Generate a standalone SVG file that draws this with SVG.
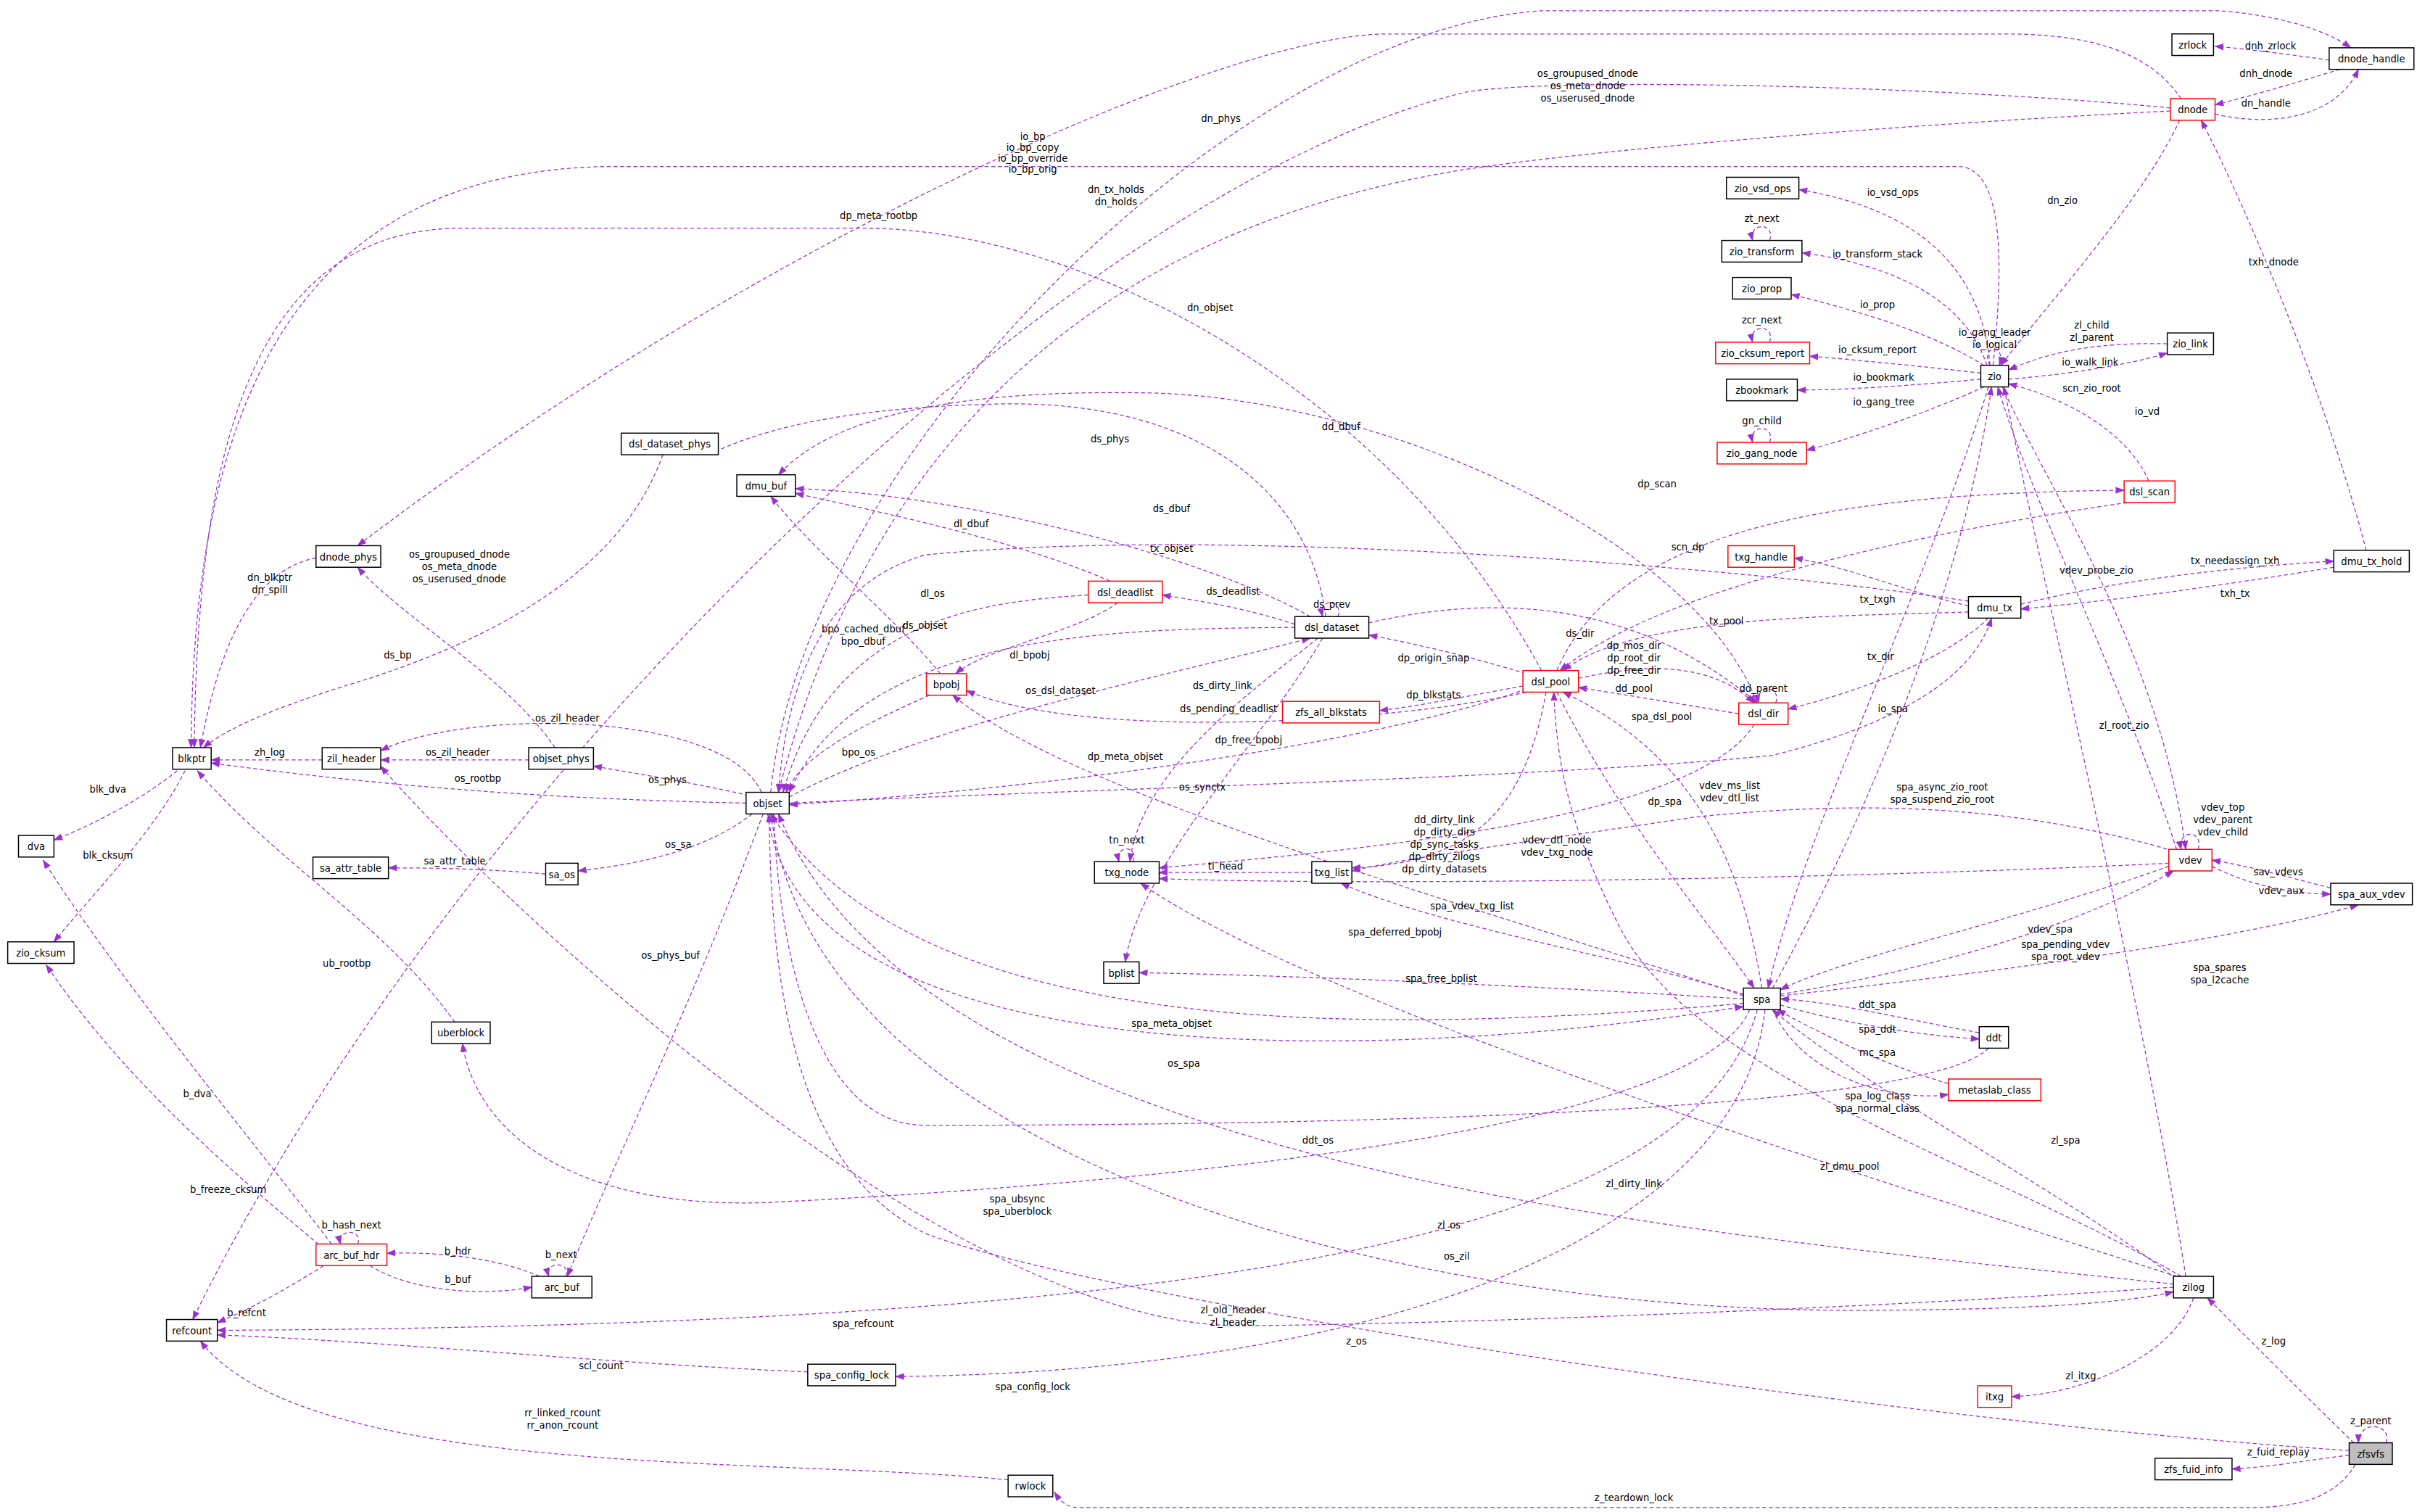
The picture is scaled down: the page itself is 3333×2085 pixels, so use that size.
<svg xmlns="http://www.w3.org/2000/svg" width="3333" height="2085" viewBox="0 0 3333 2085">
<style>
.nb{fill:#fff;stroke:#000;stroke-width:0.7}
.nr{fill:#fff;stroke:#f00;stroke-width:0.7}
.ng{fill:#bfbfbf;stroke:#000;stroke-width:0.7}
text{font-family:"DejaVu Sans","Liberation Sans",sans-serif;font-size:6.2px;fill:#000;text-anchor:middle}
.e path{fill:none;stroke:#9a32cd;stroke-width:0.6;stroke-dasharray:2.6,1.7}
</style>
<defs>
<marker id="a" markerUnits="userSpaceOnUse" markerWidth="6" markerHeight="5" refX="5.5" refY="2.2" orient="auto" viewBox="0 0 6 4.4"><path d="M0,0L6,2.2L0,4.4z" fill="#9a32cd" stroke="none"/></marker>
</defs>
<rect width="3333" height="2085" fill="#fff"/>
<g transform="scale(2.12564)">
<g id="connectors" class="e">
<g marker-end="url(#a)">
<path d="M1511,39C1490,36 1460,32 1437,30"/>
<path d="M1518,45C1495,52 1465,61 1437,68"/>
<path d="M1437,74C1470,82 1515,78 1530,45"/>
<path d="M500,514C520,300 800,20 1000,7L1440,7C1480,10 1510,20 1525,31"/>
<path d="M1415,64C1395,35 1360,22 1300,22L900,22C800,22 500,150 232,354"/>
<path d="M1408,70C1250,55 1000,50 950,60C700,120 300,500 125,856"/>
<path d="M1408,72C1250,80 1050,95 950,110C700,150 560,300 505,514"/>
<path d="M1291,237C1285,170 1240,135 1167,123"/>
<path d="M1289,237C1275,195 1230,172 1169,164"/>
<path d="M1287,237C1260,220 1220,205 1162,191"/>
<path d="M1285,242C1250,238 1210,234 1174,231"/>
<path d="M1285,246C1240,250 1200,253 1166,253"/>
<path d="M1287,251C1250,268 1200,285 1172,292"/>
<path d="M1291,237C1284,224 1302,222 1297,237"/>
<path d="M1406,223C1360,222 1330,228 1303,240"/>
<path d="M1303,246C1340,243 1380,237 1406,229"/>
<path d="M1414,78C1390,130 1330,195 1298,237"/>
<path d="M1293,237C1300,170 1300,108 1270,108L400,108C170,108 125,300 124,485"/>
<path d="M1394,312C1380,280 1340,258 1303,249"/>
<path d="M1299,251C1330,320 1400,420 1418,551"/>
<path d="M1412,551C1380,450 1320,330 1296,251"/>
<path d="M1418,828C1390,650 1330,400 1300,251"/>
<path d="M1150,641C1200,550 1270,400 1292,251"/>
<path d="M1290,251C1250,380 1170,540 1147,641"/>
<path d="M1148,156C1152,144 1134,144 1137,156"/>
<path d="M1148,222C1152,210 1134,210 1137,222"/>
<path d="M1148,287C1152,275 1134,275 1137,287"/>
<path d="M1010,435C1050,340 1200,320 1378,318"/>
<path d="M1380,326C1250,345 1080,380 1012,435"/>
<path d="M1535,357C1510,260 1460,140 1428,78"/>
<path d="M1311,392C1380,375 1450,368 1514,364"/>
<path d="M1514,368C1440,380 1370,390 1311,395"/>
<path d="M1277,393C1240,385 1200,368 1164,362"/>
<path d="M1277,397C1180,400 1060,400 1014,435"/>
<path d="M1290,401C1260,430 1200,450 1160,460"/>
<path d="M1277,390C1150,370 800,340 600,360C530,380 510,450 505,514"/>
<path d="M512,521C700,512 1000,505 1150,490C1230,470 1280,440 1292,401"/>
<path d="M860,400C850,320 780,260 650,262C560,264 500,275 460,295"/>
<path d="M850,400C780,360 620,320 516,317"/>
<path d="M840,405C810,395 780,390 754,386"/>
<path d="M840,407C720,408 560,410 512,514"/>
<path d="M512,517C600,470 750,440 850,414"/>
<path d="M868,400C872,389 855,387 858,400"/>
<path d="M888,404C950,390 1050,380 1140,456"/>
<path d="M855,414C810,450 740,500 733,559"/>
<path d="M858,414C820,480 740,560 730,624"/>
<path d="M720,377C660,350 560,330 516,320"/>
<path d="M706,386C640,390 540,400 508,514"/>
<path d="M725,391C700,410 640,420 620,437"/>
<path d="M610,437C580,400 530,360 500,322"/>
<path d="M603,451C560,470 520,490 510,514"/>
<path d="M990,437C950,425 920,418 888,412"/>
<path d="M988,445C950,452 920,458 895,461"/>
<path d="M990,449C900,470 700,480 627,448"/>
<path d="M990,447C900,480 700,510 512,522"/>
<path d="M1000,435C900,250 700,148 560,148L300,148C160,148 128,300 126,485"/>
<path d="M1024,440C1070,430 1110,430 1138,456"/>
<path d="M1128,463C1080,455 1050,450 1024,446"/>
<path d="M1152,456C1156,444 1138,444 1141,456"/>
<path d="M1140,456C1100,350 900,260 750,255C620,252 540,270 505,308"/>
<path d="M1010,449C1050,530 1110,600 1138,641"/>
<path d="M1143,641C1130,560 1100,490 1014,449"/>
<path d="M1003,449C990,520 960,560 877,563"/>
<path d="M1138,470C1100,530 900,550 752,563"/>
<path d="M851,566L752,566"/>
<path d="M735,559C739,548 723,548 726,559"/>
<path d="M1407,560C1200,570 900,575 752,570"/>
<path d="M1410,552C1300,520 1200,520 1100,530C1000,545 920,555 877,565"/>
<path d="M1131,645C1050,620 930,600 870,573"/>
<path d="M1131,646C1000,600 700,520 618,451"/>
<path d="M1131,648C1000,640 850,633 739,631"/>
<path d="M1131,651C900,670 600,680 500,528"/>
<path d="M498,528C520,700 900,690 1131,653"/>
<path d="M1135,655C1100,740 700,770 500,780C380,785 310,740 300,677"/>
<path d="M1140,655C1100,800 800,860 141,863"/>
<path d="M1145,655C1130,800 900,890 581,893"/>
<path d="M1284,670C1230,660 1190,650 1155,648"/>
<path d="M1155,652C1200,665 1250,672 1284,674"/>
<path d="M1264,703C1220,690 1180,670 1153,655"/>
<path d="M1150,655C1170,700 1230,715 1264,710"/>
<path d="M1407,562C1300,600 1200,620 1155,642"/>
<path d="M1155,645C1250,630 1350,600 1410,565"/>
<path d="M1155,646C1300,630 1450,610 1530,587"/>
<path d="M1512,576C1480,568 1460,562 1435,558"/>
<path d="M1435,562C1460,575 1490,580 1512,580"/>
<path d="M1426,551C1430,538 1412,538 1415,551"/>
<path d="M1412,830C1350,780 1200,700 1150,655"/>
<path d="M1415,828C1300,760 1100,700 1050,600C1020,540 1010,500 1008,449"/>
<path d="M1410,833C1100,800 600,760 505,528"/>
<path d="M1412,828C1200,760 850,650 740,573"/>
<path d="M1410,835C1200,850 900,860 800,860C600,855 300,560 247,497"/>
<path d="M1423,842C1410,880 1350,905 1305,906"/>
<path d="M1290,680C1250,720 900,730 600,730C530,730 505,620 502,528"/>
<path d="M500,528C530,750 900,850 1200,850C1320,850 1380,845 1410,838"/>
<path d="M1524,941C1200,920 700,840 600,800C520,760 500,650 499,528"/>
<path d="M1527,936C1500,910 1460,870 1432,842"/>
<path d="M1524,944C1500,947 1470,952 1448,953"/>
<path d="M1548,936C1552,923 1530,921 1530,936"/>
<path d="M1528,950C1515,972 1490,978 1460,978L700,978C692,978 688,974 684,968"/>
<path d="M654,960C500,945 200,960 130,870"/>
<path d="M524,890C400,885 250,870 141,866"/>
<path d="M210,821C180,840 160,850 141,858"/>
<path d="M240,821C270,840 320,840 345,835"/>
<path d="M350,828C320,815 280,812 251,813"/>
<path d="M367,828C371,818 353,818 356,828"/>
<path d="M232,807C236,797 218,797 221,807"/>
<path d="M215,807C180,760 80,640 28,558"/>
<path d="M210,810C150,760 80,700 30,626"/>
<path d="M295,663C250,600 180,560 128,500"/>
<path d="M115,500C90,520 60,535 35,545"/>
<path d="M120,500C100,540 60,580 35,611"/>
<path d="M205,362C160,370 140,430 130,485"/>
<path d="M209,493L137,493"/>
<path d="M343,493L247,493"/>
<path d="M360,485C330,440 260,400 232,368"/>
<path d="M494,514C470,460 300,460 247,487"/>
<path d="M486,516C450,508 420,503 385,497"/>
<path d="M484,521C350,518 250,510 137,495"/>
<path d="M488,528C460,550 420,560 375,565"/>
<path d="M354,567C320,564 290,563 252,563"/>
<path d="M495,528C450,650 400,750 368,828"/>
<path d="M430,295C400,380 300,420 240,440C190,455 150,470 132,485"/>
</g>
<g id="labels">
<text x="1473" y="32">dnh_zrlock</text>
<text x="1470" y="50">dnh_dnode</text>
<text x="1470" y="69">dn_handle</text>
<text x="1030" y="50">os_groupused_dnode</text><text x="1030" y="58">os_meta_dnode</text><text x="1030" y="66">os_userused_dnode</text>
<text x="792" y="79">dn_phys</text>
<text x="724" y="125">dn_tx_holds</text><text x="724" y="133">dn_holds</text>
<text x="785" y="202">dn_objset</text>
<text x="1228" y="127">io_vsd_ops</text>
<text x="1218" y="167">io_transform_stack</text>
<text x="1218" y="200">io_prop</text>
<text x="1218" y="229">io_cksum_report</text>
<text x="1222" y="247">io_bookmark</text>
<text x="1222" y="263">io_gang_tree</text>
<text x="1294" y="218">io_gang_leader</text><text x="1294" y="226">io_logical</text>
<text x="1357" y="213">zl_child</text><text x="1357" y="221">zl_parent</text>
<text x="1356" y="237">io_walk_link</text>
<text x="1338" y="132">dn_zio</text>
<text x="670" y="91">io_bp</text><text x="670" y="98">io_bp_copy</text><text x="670" y="105">io_bp_override</text><text x="670" y="112">io_bp_orig</text>
<text x="1357" y="254">scn_zio_root</text>
<text x="1393" y="269">io_vd</text>
<text x="1360" y="372">vdev_probe_zio</text>
<text x="1378" y="473">zl_root_zio</text>
<text x="1260" y="513">spa_async_zio_root</text><text x="1260" y="521">spa_suspend_zio_root</text>
<text x="1228" y="462">io_spa</text>
<text x="1143" y="144">zt_next</text>
<text x="1143" y="210">zcr_next</text>
<text x="1143" y="275">gn_child</text>
<text x="1075" y="316">dp_scan</text>
<text x="1095" y="357">scn_dp</text>
<text x="1475" y="172">txh_dnode</text>
<text x="1450" y="366">tx_needassign_txh</text>
<text x="1450" y="387">txh_tx</text>
<text x="1218" y="391">tx_txgh</text>
<text x="1120" y="405">tx_pool</text>
<text x="1220" y="428">tx_dir</text>
<text x="760" y="358">tx_objset</text>
<text x="780" y="513">os_synctx</text>
<text x="720" y="287">ds_phys</text>
<text x="760" y="332">ds_dbuf</text>
<text x="800" y="386">ds_deadlist</text>
<text x="600" y="408">ds_objset</text>
<text x="688" y="450">os_dsl_dataset</text>
<text x="864" y="394">ds_prev</text>
<text x="1025" y="413">ds_dir</text>
<text x="793" y="447">ds_dirty_link</text>
<text x="797" y="462">ds_pending_deadlist</text>
<text x="630" y="342">dl_dbuf</text>
<text x="605" y="387">dl_os</text>
<text x="668" y="427">dl_bpobj</text>
<text x="560" y="410">bpo_cached_dbuf</text><text x="560" y="418">bpo_dbuf</text>
<text x="557" y="490">bpo_os</text>
<text x="930" y="429">dp_origin_snap</text>
<text x="930" y="453">dp_blkstats</text>
<text x="810" y="482">dp_free_bpobj</text>
<text x="730" y="493">dp_meta_objset</text>
<text x="570" y="142">dp_meta_rootbp</text>
<text x="1060" y="421">dp_mos_dir</text><text x="1060" y="429">dp_root_dir</text><text x="1060" y="437">dp_free_dir</text>
<text x="1060" y="449">dd_pool</text>
<text x="1144" y="449">dd_parent</text>
<text x="870" y="279">dd_dbuf</text>
<text x="1080" y="522">dp_spa</text>
<text x="1078" y="467">spa_dsl_pool</text>
<text x="937" y="534">dd_dirty_link</text><text x="937" y="542">dp_dirty_dirs</text><text x="937" y="550">dp_sync_tasks</text><text x="937" y="558">dp_dirty_zilogs</text><text x="937" y="566">dp_dirty_datasets</text>
<text x="795" y="564">tl_head</text>
<text x="731" y="547">tn_next</text>
<text x="1010" y="547">vdev_dtl_node</text><text x="1010" y="555">vdev_txg_node</text>
<text x="1122" y="512">vdev_ms_list</text><text x="1122" y="520">vdev_dtl_list</text>
<text x="955" y="590">spa_vdev_txg_list</text>
<text x="905" y="607">spa_deferred_bpobj</text>
<text x="935" y="637">spa_free_bplist</text>
<text x="760" y="666">spa_meta_objset</text>
<text x="768" y="692">os_spa</text>
<text x="660" y="780">spa_ubsync</text><text x="660" y="788">spa_uberblock</text>
<text x="560" y="861">spa_refcount</text>
<text x="670" y="902">spa_config_lock</text>
<text x="1218" y="654">ddt_spa</text>
<text x="1218" y="670">spa_ddt</text>
<text x="1218" y="685">mc_spa</text>
<text x="1218" y="713">spa_log_class</text><text x="1218" y="721">spa_normal_class</text>
<text x="1330" y="605">vdev_spa</text>
<text x="1340" y="615">spa_pending_vdev</text><text x="1340" y="623">spa_root_vdev</text>
<text x="1440" y="630">spa_spares</text><text x="1440" y="638">spa_l2cache</text>
<text x="1478" y="568">sav_vdevs</text>
<text x="1480" y="580">vdev_aux</text>
<text x="1442" y="526">vdev_top</text><text x="1442" y="534">vdev_parent</text><text x="1442" y="542">vdev_child</text>
<text x="1340" y="742">zl_spa</text>
<text x="1200" y="759">zl_dmu_pool</text>
<text x="940" y="797">zl_os</text>
<text x="1060" y="770">zl_dirty_link</text>
<text x="800" y="852">zl_old_header</text><text x="800" y="860">zl_header</text>
<text x="1350" y="895">zl_itxg</text>
<text x="855" y="742">ddt_os</text>
<text x="945" y="817">os_zil</text>
<text x="880" y="872">z_os</text>
<text x="1475" y="872">z_log</text>
<text x="1478" y="944">z_fuid_replay</text>
<text x="1538" y="924">z_parent</text>
<text x="1060" y="974">z_teardown_lock</text>
<text x="365" y="919">rr_linked_rcount</text><text x="365" y="927">rr_anon_rcount</text>
<text x="390" y="888">scl_count</text>
<text x="160" y="854">b_refcnt</text>
<text x="297" y="832">b_buf</text>
<text x="297" y="814">b_hdr</text>
<text x="364" y="816">b_next</text>
<text x="228" y="797">b_hash_next</text>
<text x="128" y="712">b_dva</text>
<text x="148" y="774">b_freeze_cksum</text>
<text x="225" y="627">ub_rootbp</text>
<text x="70" y="514">blk_dva</text>
<text x="70" y="557">blk_cksum</text>
<text x="175" y="377">dn_blkptr</text><text x="175" y="385">dn_spill</text>
<text x="175" y="490">zh_log</text>
<text x="297" y="490">os_zil_header</text>
<text x="298" y="362">os_groupused_dnode</text><text x="298" y="370">os_meta_dnode</text><text x="298" y="378">os_userused_dnode</text>
<text x="368" y="468">os_zil_header</text>
<text x="433" y="508">os_phys</text>
<text x="310" y="507">os_rootbp</text>
<text x="440" y="550">os_sa</text>
<text x="295" y="561">sa_attr_table</text>
<text x="435" y="622">os_phys_buf</text>
<text x="258" y="427">ds_bp</text>
</g>
</g>
<g id="n_zrlock"><rect class="nb" x="1409" y="22" width="27" height="14"/><text x="1422.5" y="31.5">zrlock</text></g>
<g id="n_dnode_handle"><rect class="nb" x="1511" y="31" width="55" height="14"/><text x="1538.5" y="40.5">dnode_handle</text></g>
<g id="n_dnode"><rect class="nr" x="1408" y="64" width="29" height="14"/><text x="1422.5" y="73.5">dnode</text></g>
<g id="n_zio_vsd_ops"><rect class="nb" x="1120" y="115" width="47" height="14"/><text x="1143.5" y="124.5">zio_vsd_ops</text></g>
<g id="n_zio_transform"><rect class="nb" x="1117" y="156" width="52" height="14"/><text x="1143" y="165.5">zio_transform</text></g>
<g id="n_zio_prop"><rect class="nb" x="1124" y="180" width="38" height="14"/><text x="1143" y="189.5">zio_prop</text></g>
<g id="n_zio_cksum_report"><rect class="nr" x="1113" y="222" width="61" height="14"/><text x="1143.5" y="231.5">zio_cksum_report</text></g>
<g id="n_zio"><rect class="nb" x="1285" y="237" width="18" height="14"/><text x="1294" y="246.5">zio</text></g>
<g id="n_zio_link"><rect class="nb" x="1406" y="216" width="30" height="14"/><text x="1421" y="225.5">zio_link</text></g>
<g id="n_zbookmark"><rect class="nb" x="1120" y="246" width="46" height="14"/><text x="1143" y="255.5">zbookmark</text></g>
<g id="n_zio_gang_node"><rect class="nr" x="1114" y="287" width="58" height="14"/><text x="1143" y="296.5">zio_gang_node</text></g>
<g id="n_dsl_scan"><rect class="nr" x="1378" y="312" width="33" height="14"/><text x="1394.5" y="321.5">dsl_scan</text></g>
<g id="n_dmu_tx_hold"><rect class="nb" x="1514" y="357" width="49" height="14"/><text x="1538.5" y="366.5">dmu_tx_hold</text></g>
<g id="n_txg_handle"><rect class="nr" x="1121" y="354" width="43" height="14"/><text x="1142.5" y="363.5">txg_handle</text></g>
<g id="n_dmu_tx"><rect class="nb" x="1277" y="387" width="34" height="14"/><text x="1294" y="396.5">dmu_tx</text></g>
<g id="n_dsl_dataset_phys"><rect class="nb" x="403" y="281" width="63" height="14"/><text x="434.5" y="290.5">dsl_dataset_phys</text></g>
<g id="n_dmu_buf"><rect class="nb" x="478" y="308" width="38" height="14"/><text x="497" y="317.5">dmu_buf</text></g>
<g id="n_dnode_phys"><rect class="nb" x="205" y="354" width="42" height="14"/><text x="226" y="363.5">dnode_phys</text></g>
<g id="n_dsl_deadlist"><rect class="nr" x="706" y="377" width="48" height="14"/><text x="730" y="386.5">dsl_deadlist</text></g>
<g id="n_dsl_dataset"><rect class="nb" x="840" y="400" width="48" height="14"/><text x="864" y="409.5">dsl_dataset</text></g>
<g id="n_dsl_pool"><rect class="nr" x="988" y="435" width="36" height="14"/><text x="1006" y="444.5">dsl_pool</text></g>
<g id="n_dsl_dir"><rect class="nr" x="1128" y="456" width="32" height="14"/><text x="1144" y="465.5">dsl_dir</text></g>
<g id="n_zfs_all_blkstats"><rect class="nr" x="832" y="455" width="63" height="14"/><text x="863.5" y="464.5">zfs_all_blkstats</text></g>
<g id="n_bpobj"><rect class="nr" x="601" y="437" width="26" height="14"/><text x="614" y="446.5">bpobj</text></g>
<g id="n_blkptr"><rect class="nb" x="112" y="485" width="25" height="14"/><text x="124.5" y="494.5">blkptr</text></g>
<g id="n_zil_header"><rect class="nb" x="209" y="485" width="38" height="14"/><text x="228" y="494.5">zil_header</text></g>
<g id="n_objset_phys"><rect class="nb" x="343" y="485" width="42" height="14"/><text x="364" y="494.5">objset_phys</text></g>
<g id="n_objset"><rect class="nb" x="484" y="514" width="28" height="14"/><text x="498" y="523.5">objset</text></g>
<g id="n_dva"><rect class="nb" x="12" y="542" width="23" height="14"/><text x="23.5" y="551.5">dva</text></g>
<g id="n_sa_attr_table"><rect class="nb" x="203" y="556" width="49" height="14"/><text x="227.5" y="565.5">sa_attr_table</text></g>
<g id="n_sa_os"><rect class="nb" x="354" y="560" width="21" height="14"/><text x="364.5" y="569.5">sa_os</text></g>
<g id="n_txg_node"><rect class="nb" x="710" y="559" width="42" height="14"/><text x="731" y="568.5">txg_node</text></g>
<g id="n_txg_list"><rect class="nb" x="851" y="559" width="26" height="14"/><text x="864" y="568.5">txg_list</text></g>
<g id="n_vdev"><rect class="nr" x="1407" y="551" width="28" height="14"/><text x="1421" y="560.5">vdev</text></g>
<g id="n_spa_aux_vdev"><rect class="nb" x="1512" y="573" width="53" height="14"/><text x="1538.5" y="582.5">spa_aux_vdev</text></g>
<g id="n_zio_cksum"><rect class="nb" x="5" y="611" width="43" height="14"/><text x="26.5" y="620.5">zio_cksum</text></g>
<g id="n_bplist"><rect class="nb" x="716" y="624" width="23" height="14"/><text x="727.5" y="633.5">bplist</text></g>
<g id="n_spa"><rect class="nb" x="1131" y="641" width="24" height="14"/><text x="1143" y="650.5">spa</text></g>
<g id="n_uberblock"><rect class="nb" x="280" y="663" width="38" height="14"/><text x="299" y="672.5">uberblock</text></g>
<g id="n_ddt"><rect class="nb" x="1284" y="666" width="19" height="14"/><text x="1293.5" y="675.5">ddt</text></g>
<g id="n_metaslab_class"><rect class="nr" x="1264" y="700" width="60" height="14"/><text x="1294" y="709.5">metaslab_class</text></g>
<g id="n_arc_buf_hdr"><rect class="nr" x="205" y="807" width="46" height="14"/><text x="228" y="816.5">arc_buf_hdr</text></g>
<g id="n_arc_buf"><rect class="nb" x="345" y="828" width="39" height="14"/><text x="364.5" y="837.5">arc_buf</text></g>
<g id="n_zilog"><rect class="nb" x="1410" y="828" width="26" height="14"/><text x="1423" y="837.5">zilog</text></g>
<g id="n_refcount"><rect class="nb" x="108" y="856" width="33" height="14"/><text x="124.5" y="865.5">refcount</text></g>
<g id="n_spa_config_lock"><rect class="nb" x="524" y="885" width="57" height="14"/><text x="552.5" y="894.5">spa_config_lock</text></g>
<g id="n_itxg"><rect class="nr" x="1283" y="899" width="22" height="14"/><text x="1294" y="908.5">itxg</text></g>
<g id="n_zfsvfs"><rect class="ng" x="1524" y="936" width="28" height="14"/><text x="1538" y="945.5">zfsvfs</text></g>
<g id="n_zfs_fuid_info"><rect class="nb" x="1398" y="946" width="50" height="14"/><text x="1423" y="955.5">zfs_fuid_info</text></g>
<g id="n_rwlock"><rect class="nb" x="654" y="957" width="29" height="14"/><text x="668.5" y="966.5">rwlock</text></g>
</g>
</svg>
